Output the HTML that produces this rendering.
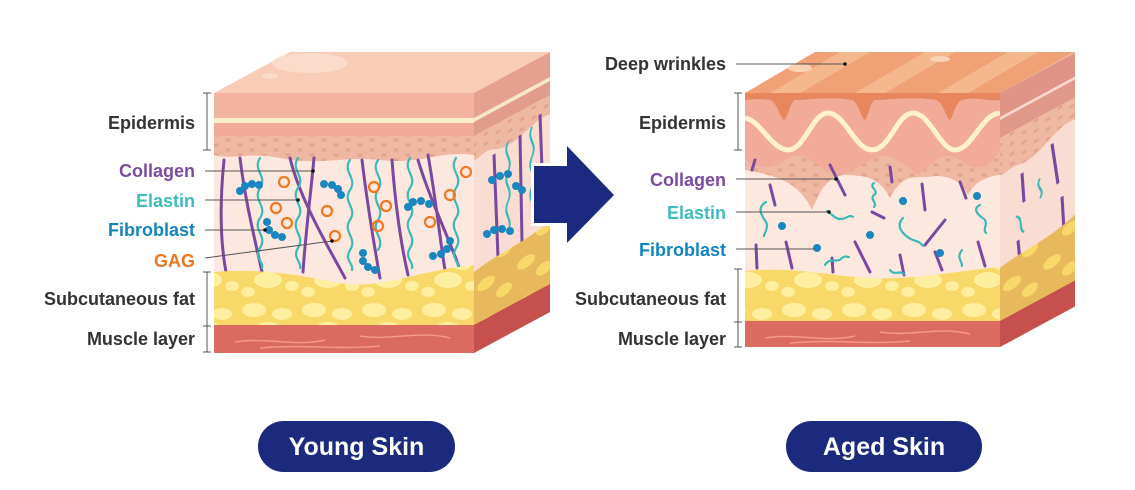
<!DOCTYPE html>
<html><head><meta charset="utf-8"><style>
html,body{margin:0;padding:0;background:#fff;}
svg{display:block}
text{font-family:"Liberation Sans",sans-serif;font-weight:bold;font-size:18px;}
</style></head><body>
<svg width="1135" height="490" viewBox="0 0 1135 490" xmlns="http://www.w3.org/2000/svg">
<defs>
<pattern id="cells" width="24" height="10" patternUnits="userSpaceOnUse">
<rect width="24" height="10" fill="#e3a38c"/>
<ellipse cx="12" cy="5" rx="10" ry="3.6" fill="#eeb8a2"/>
<ellipse cx="0" cy="0" rx="10" ry="3.6" fill="#eeb8a2"/>
<ellipse cx="24" cy="0" rx="10" ry="3.6" fill="#eeb8a2"/>
<ellipse cx="0" cy="10" rx="10" ry="3.6" fill="#eeb8a2"/>
<ellipse cx="24" cy="10" rx="10" ry="3.6" fill="#eeb8a2"/>
</pattern>
<pattern id="fat" width="60" height="50" patternUnits="userSpaceOnUse">
<rect width="60" height="50" fill="#f9d86a"/>
<ellipse cx="14" cy="10" rx="12" ry="7" fill="#fdeea0"/>
<ellipse cx="42" cy="14" rx="10" ry="6" fill="#fdeea0"/>
<ellipse cx="28" cy="30" rx="14" ry="8" fill="#fdeea0"/>
<ellipse cx="52" cy="36" rx="7" ry="5" fill="#fdeea0"/>
<ellipse cx="8" cy="42" rx="7" ry="5" fill="#fdeea0"/>
</pattern>
<pattern id="fatS" width="40" height="40" patternUnits="userSpaceOnUse">
<rect width="40" height="40" fill="#e8b85c"/>
<ellipse cx="12" cy="10" rx="9" ry="6" fill="#f9d86a"/>
<ellipse cx="30" cy="26" rx="8" ry="6" fill="#f9d86a"/>
</pattern>
</defs>

<!-- ============ LEFT CUBE ============ -->
<g>
<polygon points="214,93 290,52 550,52 474,93" fill="#f8ccb6"/>
<ellipse cx="310" cy="63" rx="38" ry="10" fill="#fbdcca"/>
<ellipse cx="270" cy="76" rx="8" ry="3" fill="#fbdcca"/>
<rect x="214" y="93" width="260" height="260" fill="#fde8df"/>
<rect x="214" y="93" width="260" height="25" fill="#f4b3a0"/>
<rect x="214" y="118" width="260" height="5" fill="#fbeccc"/>
<rect x="214" y="123" width="260" height="13" fill="#f2ab98"/>
<path d="M214,136 H474 V155 C440,150 420,165 380,160 C340,156 320,166 280,158 C250,152 230,160 214,155 Z" fill="url(#cells)"/>
<g fill="none" stroke-linecap="round">
<g stroke="#7b48a0" stroke-width="3">
<path d="M224,160 C220,200 220,240 226,272"/>
<path d="M240,158 C245,200 255,240 262,272"/>
<path d="M290,158 C300,200 330,250 345,278"/>
<path d="M314,158 C310,200 305,240 303,272"/>
<path d="M362,160 C368,210 375,250 380,278"/>
<path d="M392,160 C395,200 400,240 408,275"/>
<path d="M418,160 C430,200 450,240 460,270"/>
<path d="M428,155 C436,200 440,240 445,270"/>
</g>
<g stroke="#3bb8b8" stroke-width="2.2">
<path d="M260,158 c-8,12 8,18 0,30 c-8,12 8,18 0,30 c-8,12 8,18 0,30 c-6,10 4,14 2,20"/>
<path d="M298,158 c-8,12 8,18 0,30 c-8,12 8,18 0,30 c-8,12 8,18 0,30 c-6,10 4,14 2,20"/>
<path d="M350,160 c-8,12 8,18 0,30 c-8,12 8,18 0,30 c-8,12 8,18 0,30 c-6,10 4,14 2,20"/>
<path d="M378,160 c-8,12 8,18 0,30 c-8,12 8,18 0,30 c-8,12 8,18 0,30"/>
<path d="M410,158 c-8,12 8,18 0,30 c-8,12 8,18 0,30 c-8,12 8,18 0,30 c-6,10 4,14 2,20"/>
<path d="M456,158 c-8,12 8,18 0,30 c-8,12 8,18 0,30 c-8,12 8,18 0,30 c-6,10 4,14 2,20"/>
</g>
</g>
<g fill="none" stroke="#f07820" stroke-width="2.2">
<circle cx="284" cy="182" r="5"/><circle cx="276" cy="208" r="5"/><circle cx="287" cy="223" r="5"/>
<circle cx="327" cy="211" r="5"/><circle cx="374" cy="187" r="5"/><circle cx="386" cy="206" r="5"/>
<circle cx="378" cy="226" r="5"/><circle cx="335" cy="236" r="5"/><circle cx="450" cy="195" r="5"/>
<circle cx="430" cy="222" r="5"/><circle cx="466" cy="172" r="5"/><circle cx="481" cy="194" r="5"/><circle cx="481" cy="208" r="5"/>
</g>
<g fill="#1a86c0">
<circle cx="240" cy="191" r="4"/><circle cx="245" cy="186" r="4"/><circle cx="252" cy="184" r="4"/><circle cx="259" cy="185" r="4"/>
<circle cx="324" cy="184" r="4"/><circle cx="332" cy="185" r="4"/><circle cx="338" cy="189" r="4"/><circle cx="341" cy="195" r="4"/>
<circle cx="267" cy="222" r="4"/><circle cx="269" cy="230" r="4"/><circle cx="275" cy="235" r="4"/><circle cx="282" cy="237" r="4"/>
<circle cx="408" cy="207" r="4"/><circle cx="413" cy="202" r="4"/><circle cx="421" cy="201" r="4"/><circle cx="429" cy="204" r="4"/>
<circle cx="363" cy="253" r="4"/><circle cx="363" cy="261" r="4"/><circle cx="368" cy="267" r="4"/><circle cx="375" cy="270" r="4"/>
<circle cx="433" cy="256" r="4"/><circle cx="441" cy="254" r="4"/><circle cx="447" cy="249" r="4"/><circle cx="450" cy="241" r="4"/>
</g>
<path d="M214,272 C260,268 300,275 340,283 C380,290 420,270 474,265 V326 H214 Z" fill="url(#fat)"/>
<rect x="214" y="325" width="260" height="28" fill="#db6b60"/>
<path d="M235,342 c30,-5 60,5 90,-2 M360,336 c30,5 60,-6 90,2 M260,348 c40,-4 80,2 120,-2" stroke="#f29a84" stroke-width="1.5" fill="none"/>
<g transform="matrix(1,-0.54,0,1,474,0)">
<rect x="0" y="93" width="76" height="260" fill="#f9ddd2"/>
<rect x="0" y="93" width="76" height="25" fill="#e5a090"/>
<rect x="0" y="118" width="76" height="4" fill="#f6e6cc"/>
<rect x="0" y="122" width="76" height="14" fill="#e29c8b"/>
<path d="M0,136 H76 V155 C60,150 40,172 20,160 C10,155 5,162 0,160 Z" fill="url(#cells)"/>
<g stroke="#7b48a0" stroke-width="3" fill="none"><path d="M20,165 L24,270"/><path d="M46,160 L48,268"/><path d="M66,150 L70,262"/></g>
<g stroke="#3bb8b8" stroke-width="2" fill="none"><path d="M34,160 c-6,12 6,18 0,30 c-6,12 6,18 0,30 c-6,12 6,18 0,30"/><path d="M58,158 c-6,12 6,18 0,30 c-6,12 6,18 0,30 c-6,12 6,18 0,30"/></g>
<path d="M0,272 C25,266 50,270 76,262 V326 H0 Z" fill="url(#fatS)"/>
<rect x="0" y="325" width="76" height="28" fill="#c5504e"/>
</g>
<g fill="#1a86c0"><circle cx="492" cy="180" r="4"/><circle cx="500" cy="176" r="4"/><circle cx="508" cy="174" r="4"/><circle cx="516" cy="186" r="4"/><circle cx="522" cy="190" r="4"/><circle cx="487" cy="234" r="4"/><circle cx="494" cy="230" r="4"/><circle cx="502" cy="229" r="4"/><circle cx="510" cy="231" r="4"/></g>
</g>

<!-- ARROW -->
<rect x="531" y="163" width="38" height="63" fill="#fff"/>
<polygon points="534,166 567,166 567,146 614,195 567,243 567,223 534,223" fill="#1b2a80"/>

<!-- ============ RIGHT CUBE ============ -->
<g>
<polygon points="745,93 815,52 1075,52 1000,93" fill="#f0a276"/>
<path d="M770,93 L840,52 L870,52 L800,93 Z M855,93 L925,52 L955,52 L885,93 Z M938,93 L1008,52 L1038,52 L968,93 Z" fill="#f5b88e"/>
<ellipse cx="800" cy="68" rx="12" ry="4" fill="#fad2b4"/><ellipse cx="940" cy="59" rx="10" ry="3" fill="#fad2b4"/>
<rect x="745" y="93" width="255" height="254" fill="#fde8df"/>
<path d="M745,130 H1000 V175 C990,176 975,180 968,195 C960,178 945,176 935,176 C915,180 905,170 890,198 C878,174 860,176 845,175 C830,176 822,185 812,210 C800,184 780,176 745,170 Z" fill="url(#cells)"/>
<path d="M745,93 H1000 V150 C990,170 975,172 960,160 C945,150 935,160 918,175 C900,160 885,150 870,160 C855,170 840,178 825,170 C810,160 800,150 785,160 C770,170 760,170 745,160 Z" fill="#f2ab98"/>
<path d="M745,118 C760,120 772,150 788,150 C805,150 812,113 828,113 C845,113 855,150 872,150 C890,150 897,113 913,113 C930,113 940,150 955,150 C972,150 982,113 1000,113" stroke="#fdf2cc" stroke-width="5" fill="none"/>
<path d="M745,93 H1000 V100 C990,102 975,96 962,100 C955,102 953,118 950,120 C946,118 943,102 936,100 C910,96 890,100 875,100 C870,102 868,118 865,120 C861,118 858,102 852,100 C828,96 810,100 795,100 C790,102 788,118 784,120 C780,118 777,102 770,100 C758,98 750,100 745,100 Z" fill="#e8875e"/>
<g stroke="#7b48a0" stroke-width="3" stroke-linecap="round">
<line x1="755" y1="160" x2="752" y2="170"/><line x1="770" y1="185" x2="775" y2="205"/>
<line x1="830" y1="165" x2="845" y2="195"/><line x1="890" y1="167" x2="892" y2="182"/>
<line x1="872" y1="212" x2="884" y2="218"/><line x1="922" y1="184" x2="925" y2="210"/>
<line x1="960" y1="182" x2="966" y2="198"/><line x1="945" y1="220" x2="925" y2="245"/>
<line x1="786" y1="242" x2="792" y2="268"/><line x1="855" y1="242" x2="870" y2="272"/>
<line x1="900" y1="255" x2="904" y2="275"/><line x1="935" y1="252" x2="942" y2="270"/>
<line x1="978" y1="242" x2="985" y2="266"/><line x1="756" y1="245" x2="757" y2="268"/>
<line x1="832" y1="258" x2="833" y2="272"/>
</g>
<g stroke="#3bb8b8" stroke-width="2.2" fill="none" stroke-linecap="round">
<path d="M766,202 c-10,6 -4,14 0,20 c3,5 -2,12 -2,14"/>
<path d="M827,211 c6,4 8,8 14,8 c6,0 8,-5 12,-2"/>
<path d="M874,183 c-6,4 6,8 0,12 c-5,4 4,8 0,12"/>
<path d="M903,218 c-8,8 0,16 6,20 c6,4 10,2 14,8"/>
<path d="M980,205 c-8,4 -2,10 4,14 c5,5 -2,10 2,14"/>
<path d="M825,265 c5,-8 12,-2 16,-6 c4,-4 6,-2 8,-2"/>
<path d="M890,270 c4,6 10,0 14,4"/>
<path d="M962,250 c-6,8 0,10 0,16"/>
</g>
<g fill="#1a86c0"><circle cx="782" cy="226" r="4"/><circle cx="903" cy="201" r="4"/><circle cx="870" cy="235" r="4"/><circle cx="940" cy="253" r="4"/><circle cx="977" cy="196" r="4"/><circle cx="817" cy="248" r="4"/></g>
<path d="M745,271 C790,266 830,276 870,278 C910,280 950,272 1000,267 V322 H745 Z" fill="url(#fat)"/>
<rect x="745" y="321" width="255" height="26" fill="#db6b60"/>
<path d="M765,338 c30,-5 60,5 90,-2 M880,332 c30,5 60,-6 90,2 M790,343 c40,-4 80,2 120,-2" stroke="#f29a84" stroke-width="1.5" fill="none"/>
<g transform="matrix(1,-0.54,0,1,1000,0)">
<rect x="0" y="93" width="75" height="254" fill="#f9ddd2"/>
<rect x="0" y="93" width="75" height="25" fill="#e09488"/>
<rect x="0" y="117" width="75" height="3" fill="#f8d8d0"/>
<rect x="0" y="120" width="75" height="18" fill="#e0988a"/>
<path d="M0,138 H75 V160 C55,155 40,180 20,175 C10,172 5,178 0,175 Z" fill="url(#cells)"/>
<g stroke="#7b48a0" stroke-width="3"><line x1="22" y1="185" x2="24" y2="215"/><line x1="52" y1="172" x2="58" y2="215"/><line x1="62" y1="230" x2="64" y2="265"/><line x1="18" y1="250" x2="20" y2="272"/></g>
<g stroke="#3bb8b8" stroke-width="2" fill="none"><path d="M40,200 c-6,8 6,12 0,20"/><path d="M16,225 c8,6 2,14 8,20"/></g>
<path d="M0,268 C25,262 50,266 75,255 V322 H0 Z" fill="url(#fatS)"/>
<rect x="0" y="321" width="75" height="26" fill="#c5504e"/>
</g>
</g>

<!-- ============ LEFT LABELS ============ -->
<g fill="#333" stroke="#555" stroke-width="1">
<line x1="207" y1="93" x2="207" y2="150"/><line x1="203" y1="93" x2="211" y2="93"/><line x1="203" y1="150" x2="211" y2="150"/>
<line x1="207" y1="272" x2="207" y2="352"/><line x1="203" y1="272" x2="211" y2="272"/><line x1="203" y1="326" x2="211" y2="326"/><line x1="203" y1="352" x2="211" y2="352"/>
<line x1="205" y1="171" x2="313" y2="171"/><line x1="205" y1="200" x2="298" y2="200"/><line x1="205" y1="230" x2="265" y2="230"/><line x1="205" y1="258" x2="332" y2="241"/>
</g>
<g fill="#111"><circle cx="313" cy="171" r="1.8"/><circle cx="298" cy="200" r="1.8"/><circle cx="265" cy="230" r="1.8"/><circle cx="332" cy="241" r="1.8"/></g>
<g text-anchor="end">
<text x="195" y="129" fill="#333">Epidermis</text>
<text x="195" y="177" fill="#7b4ba0">Collagen</text>
<text x="195" y="207" fill="#3fbcc0">Elastin</text>
<text x="195" y="236" fill="#1485be">Fibroblast</text>
<text x="195" y="267" fill="#ee7622">GAG</text>
<text x="195" y="305" fill="#333">Subcutaneous fat</text>
<text x="195" y="345" fill="#333">Muscle layer</text>
</g>

<!-- ============ RIGHT LABELS ============ -->
<g stroke="#555" stroke-width="1">
<line x1="738" y1="93" x2="738" y2="150"/><line x1="734" y1="93" x2="742" y2="93"/><line x1="734" y1="150" x2="742" y2="150"/>
<line x1="738" y1="269" x2="738" y2="347"/><line x1="734" y1="269" x2="742" y2="269"/><line x1="734" y1="322" x2="742" y2="322"/><line x1="734" y1="347" x2="742" y2="347"/>
<line x1="736" y1="64" x2="845" y2="64"/><line x1="736" y1="179" x2="836" y2="179"/><line x1="736" y1="212" x2="829" y2="212"/><line x1="736" y1="249" x2="815" y2="249"/>
</g>
<g fill="#111"><circle cx="845" cy="64" r="1.8"/><circle cx="836" cy="179" r="1.8"/><circle cx="829" cy="212" r="1.8"/></g>
<g text-anchor="end">
<text x="726" y="70" fill="#333">Deep wrinkles</text>
<text x="726" y="129" fill="#333">Epidermis</text>
<text x="726" y="186" fill="#7b4ba0">Collagen</text>
<text x="726" y="219" fill="#3fbcc0">Elastin</text>
<text x="726" y="256" fill="#1485be">Fibroblast</text>
<text x="726" y="305" fill="#333">Subcutaneous fat</text>
<text x="726" y="345" fill="#333">Muscle layer</text>
</g>

<!-- BUTTONS -->
<rect x="258" y="421" width="197" height="51" rx="25.5" fill="#1b2a7c"/>
<text x="356.5" y="455" text-anchor="middle" fill="#fff" style="font-size:25px">Young Skin</text>
<rect x="786" y="421" width="196" height="51" rx="25.5" fill="#1b2a7c"/>
<text x="884" y="455" text-anchor="middle" fill="#fff" style="font-size:25px">Aged Skin</text>
</svg>
</body></html>
